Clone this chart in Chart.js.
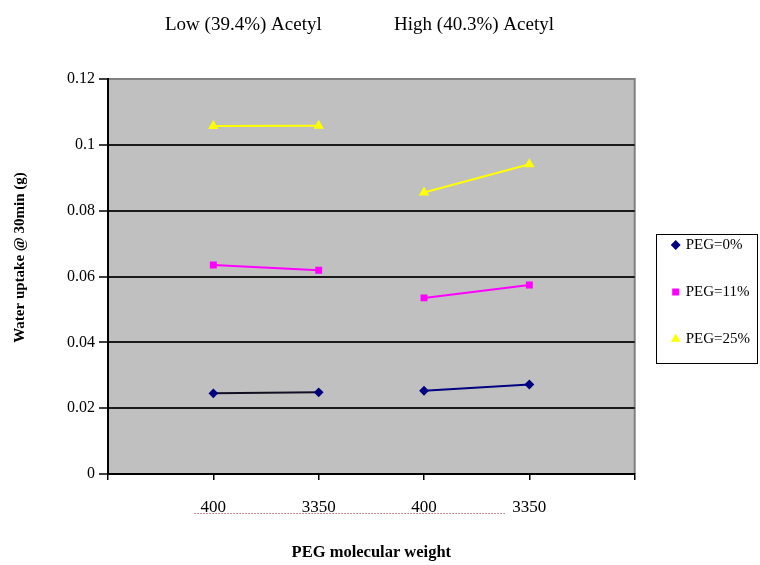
<!DOCTYPE html>
<html>
<head>
<meta charset="utf-8">
<script src="https://cdn.jsdelivr.net/npm/chart.js@4/dist/chart.umd.min.js"></script>
<style>
  html, body { margin: 0; padding: 0; background: #ffffff; }
  #wrap { width: 760px; height: 565px; }
</style>
</head>
<body>
<div id="wrap"><canvas id="chart"></canvas></div>
<script>
'use strict';

// values
const weights = ['400', '3350', '400', '3350'];
const groupTitles = ['Low (39.4%) Acetyl', 'High (40.3%) Acetyl'];
const seriesNames = ['PEG=0%', 'PEG=11%', 'PEG=25%'];
const peg0 = [0.0245, 0.0248, 0.0253, 0.0272];
const peg11 = [0.0635, 0.0619, 0.0535, 0.0574];
const peg25 = [0.1057, 0.1058, 0.0855, 0.0941];
const yTicks = [0, 0.02, 0.04, 0.06, 0.08, 0.1, 0.12];
const yTitle = 'Water uptake @ 30min (g)';

const SERIF = '"Liberation Serif", "Times New Roman", serif';

// empty slot on each side, like the original axis
const labels = [''].concat(weights, ['']);
const pad = arr => [null].concat(arr, [null]);

// no segment between the two acetyl groups
const groupBreak = (colour, first) => ({
  borderColor: ctx => {
    if (ctx.p0DataIndex === 2) return 'rgba(0,0,0,0)';
    if (first && ctx.p0DataIndex === 1) return first;
    return colour;
  }
});

const plotBackground = {
  id: 'plotBackground',
  beforeDraw(chart) {
    const {ctx, chartArea: a} = chart;
    ctx.save();
    ctx.fillStyle = '#c0c0c0';
    ctx.fillRect(a.left, a.top, a.right - a.left, a.bottom - a.top);
    ctx.strokeStyle = '#808080';
    ctx.lineWidth = 2;
    ctx.beginPath();
    ctx.moveTo(a.left, a.top);
    ctx.lineTo(a.right, a.top);
    ctx.lineTo(a.right, a.bottom);
    ctx.stroke();
    ctx.restore();
  }
};

const extras = {
  id: 'extras',
  afterDraw(chart) {
    const {ctx, chartArea} = chart;
    const x = chart.scales.x;
    const y = chart.scales.y;
    ctx.save();
    // group titles
    ctx.fillStyle = '#000';
    ctx.font = '19px ' + SERIF;
    ctx.textAlign = 'center';
    ctx.textBaseline = 'middle';
    ctx.fillText(groupTitles[0], x.getPixelForValue(1) + 30, 25);
    ctx.fillText(groupTitles[1], x.getPixelForValue(3) + 50, 25);
    // y axis title, sitting a little above the middle as in the original
    ctx.save();
    ctx.translate(y.left + 16, (y.top + y.bottom) / 2 - 19);
    ctx.rotate(-Math.PI / 2);
    ctx.font = 'bold 15px ' + SERIF;
    ctx.fillText(yTitle, 0, 0);
    ctx.restore();
    // dotted grouping line under the weights
    ctx.strokeStyle = '#b86878';
    ctx.lineWidth = 1;
    ctx.setLineDash([1.5, 1.5]);
    ctx.beginPath();
    ctx.moveTo(x.getPixelForValue(1) - 19, x.top + 39.5);
    ctx.lineTo(x.getPixelForValue(4) - 24, x.top + 39.5);
    ctx.stroke();
    ctx.setLineDash([]);
    // legend frame
    const lg = chart.legend;
    if (lg && lg.legendHitBoxes.length) {
      const hb = lg.legendHitBoxes;
      const first = hb[0], last = hb[hb.length - 1];
      const top = Math.round(first.top + first.height / 2 - 11) + 0.5;
      const bottom = Math.round(last.top + last.height / 2 + 24) + 0.5;
      const left = Math.round(chartArea.right + 21) + 0.5;
      ctx.strokeStyle = '#000';
      ctx.lineWidth = 1;
      ctx.strokeRect(left, top, chart.width - 2.5 - left, bottom - top);
    }
    ctx.restore();
  }
};

const ds = (label, data, colour, style, radius, segFirst) => ({
  label: label,
  data: pad(data),
  borderColor: colour,
  backgroundColor: colour,
  pointBackgroundColor: colour,
  pointBorderColor: colour,
  pointStyle: style,
  pointRadius: radius,
  pointHoverRadius: radius,
  borderWidth: 2,
  spanGaps: false,
  segment: groupBreak(colour, segFirst)
});

new Chart(document.getElementById('chart'), {
  type: 'line',
  data: {
    labels: labels,
    datasets: [
      ds(seriesNames[0], peg0, '#000080', 'rectRot', 3.5, '#101020'),
      ds(seriesNames[1], peg11, '#ff00ff', 'rect', 3.5),
      ds(seriesNames[2], peg25, '#ffff00', 'triangle', 4)
    ]
  },
  options: {
    responsive: true,
    maintainAspectRatio: false,
    animation: false,
    layout: { padding: { top: 19, right: 0, bottom: 0, left: 4 } },
    plugins: {
      // blank, only keeps room above the plot for the group titles
      title: {
        display: true,
        text: '',
        fullSize: false,
        font: { size: 10, lineHeight: 1.2 },
        padding: { top: 0, bottom: 48 }
      },
      tooltip: { enabled: false },
      legend: {
        position: 'right',
        labels: {
          usePointStyle: true,
          color: '#000',
          font: { family: SERIF, size: 15 },
          padding: 32,
          boxWidth: 5,
          boxHeight: 5
        }
      }
    },
    scales: {
      x: {
        type: 'category',
        offset: false,
        afterFit: scale => { scale.height = 91; },
        grid: {
          drawOnChartArea: false,
          drawTicks: true,
          tickLength: 6,
          color: '#000',
          lineWidth: 1.5
        },
        border: { color: '#000', width: 2 },
        ticks: {
          autoSkip: false,
          maxRotation: 0,
          padding: 17,
          color: '#000',
          font: { family: SERIF, size: 17 }
        },
        title: {
          display: true,
          text: 'PEG molecular weight',
          color: '#000',
          font: { family: SERIF, size: 16.5, weight: 'bold' },
          padding: { top: 10, bottom: 2 }
        }
      },
      y: {
        min: 0,
        max: 0.12,
        afterFit: scale => { scale.width = 104; },
        afterBuildTicks: scale => {
          scale.ticks = yTicks.map(v => ({ value: v }));
        },
        grid: {
          color: ctx => (ctx.tick && ctx.tick.value === 0.12) ? '#808080' : '#1a1a1a',
          lineWidth: 2,
          tickLength: 9,
          tickColor: '#000',
          tickWidth: 1.5
        },
        border: { color: '#000', width: 2 },
        ticks: {
          padding: 4,
          color: '#000',
          font: { family: SERIF, size: 16 },
          callback: v => String(Number(v.toFixed(2)))
        },
        title: { display: false }
      },
      // empty spacer between plot and legend
      gap: {
        position: 'right',
        display: true,
        grid: { display: false },
        border: { display: false },
        ticks: { display: false },
        afterFit: scale => { scale.width = 6.5; }
      }
    }
  },
  plugins: [plotBackground, extras]
});
</script>
</body>
</html>
